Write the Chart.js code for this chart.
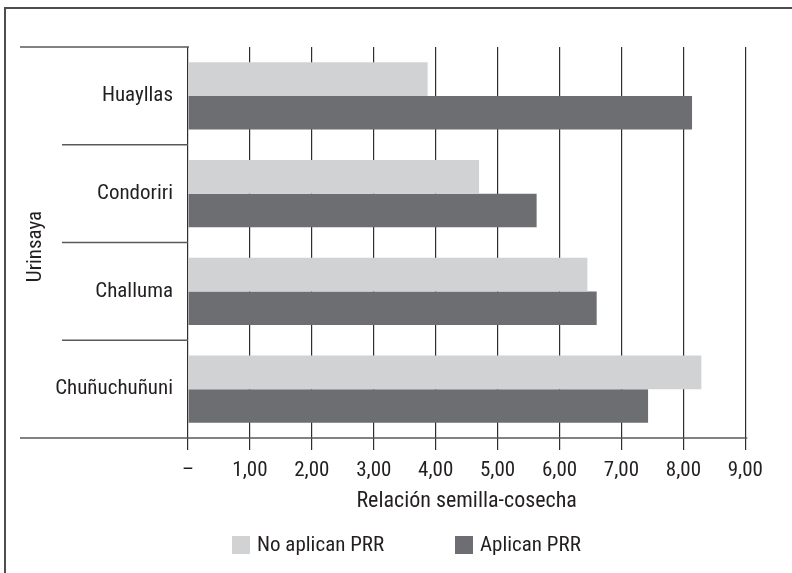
<!DOCTYPE html>
<html>
<head>
<meta charset="utf-8">
<script src="https://cdn.jsdelivr.net/npm/chart.js@4.4.1/dist/chart.umd.min.js"></script>
<style>
  html, body { margin: 0; padding: 0; background: #ffffff; }
  #wrap { width: 792px; height: 573px; }
</style>
</head>
<body>
<div id="wrap"><canvas id="c" width="792" height="573"></canvas></div>
<script>
// Relación semilla-cosecha por comunidad (Urinsaya)
const categories = ['Huayllas', 'Condoriri', 'Challuma', 'Chuñuchuñuni'];
const groupLabel = 'Urinsaya';
const seriesNames = ['No aplican PRR', 'Aplican PRR'];
const noAplicanPRR = [3.87, 4.70, 6.45, 8.29];
const aplicanPRR = [8.14, 5.63, 6.60, 7.43];
const xTickLabels = ['–', '1,00', '2,00', '3,00', '4,00', '5,00', '6,00', '7,00', '8,00', '9,00'];
const xTitle = 'Relación semilla-cosecha';

const LIGHT = '#d1d2d4';
const DARK = '#6d6e71';
const INK = '#231f20';
const GRID = '#2e2e2e';
const RULE = '#58595b';
const FONT = "'Roboto Condensed', Roboto, 'DejaVu Sans Condensed', sans-serif";
const FSIZE = 21;

Chart.defaults.font.family = FONT;
Chart.defaults.font.size = FSIZE;
Chart.defaults.color = INK;

// Frame, group rules, rotated group name and legend
const decorations = {
  id: 'decorations',
  afterDraw(chart) {
    const { ctx, chartArea: a, scales: { y } } = chart;
    const n = categories.length;
    const half = (y.getPixelForTick(1) - y.getPixelForTick(0)) / 2;
    ctx.save();

    // outer frame (top and left edges)
    ctx.strokeStyle = '#4d4d4f';
    ctx.lineWidth = 2;
    ctx.beginPath();
    ctx.moveTo(4, 8); ctx.lineTo(792, 8);
    ctx.moveTo(5, 8); ctx.lineTo(5, 573);
    ctx.stroke();

    // category separators on the left of the axis
    ctx.strokeStyle = RULE;
    ctx.lineWidth = 1.6;
    ctx.beginPath();
    const top = y.getPixelForTick(0) - half;
    ctx.moveTo(20, top); ctx.lineTo(a.left + 1, top);
    for (let i = 0; i < n - 1; i++) {
      const p = y.getPixelForTick(i) + half;
      ctx.moveTo(62, p); ctx.lineTo(a.left, p);
    }
    const bottom = y.getPixelForTick(n - 1) + half;
    ctx.moveTo(20, bottom); ctx.lineTo(a.right + 2, bottom);
    ctx.stroke();

    // group name
    ctx.fillStyle = INK;
    ctx.font = FSIZE + 'px ' + FONT;
    ctx.textAlign = 'center';
    ctx.textBaseline = 'middle';
    ctx.translate(36, (top + bottom) / 2 + 4);
    ctx.rotate(-Math.PI / 2);
    ctx.fillText(groupLabel, 0, 0);
    ctx.restore();

    // legend
    ctx.save();
    ctx.font = FSIZE + 'px ' + FONT;
    ctx.textBaseline = 'middle';
    ctx.textAlign = 'left';
    const items = [
      { x: 232, color: chart.data.datasets[0].backgroundColor, text: chart.data.datasets[0].label },
      { x: 455, color: chart.data.datasets[1].backgroundColor, text: chart.data.datasets[1].label }
    ];
    items.forEach(it => {
      ctx.fillStyle = it.color;
      ctx.fillRect(it.x, 536, 18, 18);
      ctx.fillStyle = INK;
      ctx.fillText(it.text, it.x + 25, 545.5);
    });
    ctx.restore();
  }
};

new Chart(document.getElementById('c'), {
  type: 'bar',
  data: {
    labels: categories,
    datasets: [
      { label: seriesNames[0], data: noAplicanPRR, backgroundColor: LIGHT, borderWidth: 0,
        categoryPercentage: 0.69, barPercentage: 1.0 },
      { label: seriesNames[1], data: aplicanPRR, backgroundColor: DARK, borderWidth: 0,
        categoryPercentage: 0.69, barPercentage: 1.0 }
    ]
  },
  options: {
    indexAxis: 'y',
    responsive: false,
    animation: false,
    devicePixelRatio: 1,
    layout: { padding: { left: 0, top: 47, right: 46.7, bottom: 55 } },
    plugins: {
      legend: { display: false },
      tooltip: { enabled: false }
    },
    scales: {
      x: {
        type: 'linear',
        min: 0,
        max: 9,
        ticks: {
          stepSize: 1,
          padding: 8,
          color: INK,
          font: { size: FSIZE },
          maxRotation: 0,
          callback: (v, i) => xTickLabels[i]
        },
        grid: {
          color: GRID,
          lineWidth: 1.2,
          tickLength: 12,
          tickColor: GRID,
          drawOnChartArea: true
        },
        border: { display: false },
        title: {
          display: true,
          text: xTitle,
          color: INK,
          font: { size: 22 },
          padding: { top: 0, bottom: 3 }
        },
        afterFit(scale) { scale.height = 80; }
      },
      y: {
        type: 'category',
        ticks: { padding: 15, color: INK, font: { size: FSIZE } },
        grid: { display: false, drawTicks: false },
        border: { display: false },
        afterFit(scale) { scale.width = 188; }
      }
    }
  },
  plugins: [decorations]
});
</script>
</body>
</html>
